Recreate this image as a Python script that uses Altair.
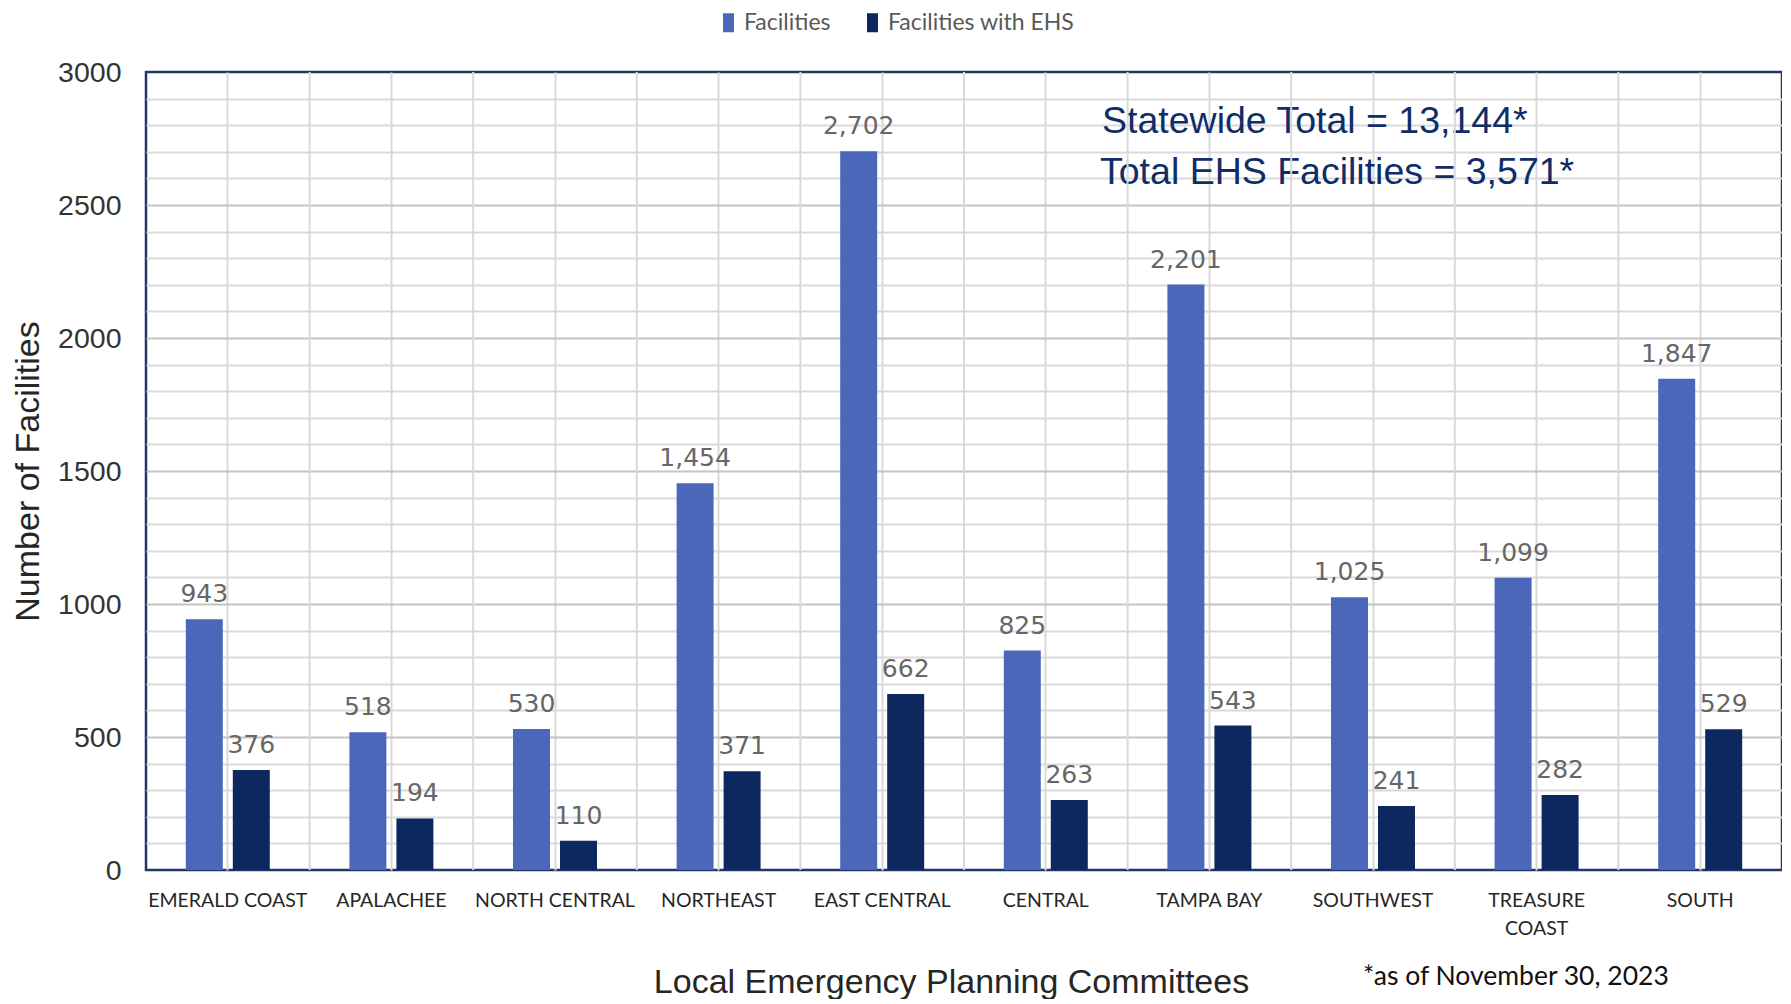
import altair as alt
import pandas as pd

categories = ["EMERALD COAST", "APALACHEE", "NORTH CENTRAL", "NORTHEAST", "EAST CENTRAL",
              "CENTRAL", "TAMPA BAY", "SOUTHWEST", "TREASURE COAST", "SOUTH"]
facilities = [943, 518, 530, 1454, 2702, 825, 2201, 1025, 1099, 1847]
facilities_ehs = [376, 194, 110, 371, 662, 263, 543, 241, 282, 529]
series = ["Facilities", "Facilities with EHS"]
colors = ["#4A67BA", "#0C285E"]
y_ticks = list(range(0, 3001, 100))
note_total = "Statewide Total = 13,144*"
note_ehs = "Total EHS Facilities = 3,571*"
footnote = "*as of November 30, 2023"

rows = []
for c, f, e in zip(categories, facilities, facilities_ehs):
    rows.append({"committee": c, "series": series[0], "value": f})
    rows.append({"committee": c, "series": series[1], "value": e})
df = pd.DataFrame(rows)
cat_df = pd.DataFrame({"committee": categories[1:]})

x_scale = alt.Scale(domain=categories, paddingInner=0, paddingOuter=0)
xo_scale = alt.Scale(domain=series, paddingInner=0.213, paddingOuter=0.847)
y_scale = alt.Scale(domain=[0, 3000], nice=False)

x_axis = alt.Axis(
    title="Local Emergency Planning Committees", grid=True, gridColor="#d9d9d9", gridWidth=2,
    ticks=False, domain=False, labelAngle=0, labelFont="Lato", labelFontSize=19.5,
    labelColor="#262626", labelPadding=21, labelLineHeight=28,
    labelExpr="datum.value == 'TREASURE COAST' ? ['TREASURE', 'COAST'] : datum.label",
    titleFont="Liberation Sans", titleFontSize=34, titleFontWeight="normal",
    titleColor="#262626", titleX=805, titleY=112, titleBaseline="middle",
)
y_axis = alt.Axis(
    title="Number of Facilities", values=y_ticks, format="d",
    labelExpr="datum.value % 500 == 0 ? datum.label : ''",
    grid=True,
    gridColor={"condition": {"test": "datum.value % 500 === 0", "value": "#c4c4c4"}, "value": "#dadada"},
    gridOpacity={"condition": {"test": "datum.value === 0 || datum.value === 3000", "value": 0}, "value": 1},
    gridWidth=2, ticks=False, domain=False, labelFont="Liberation Sans", labelFontSize=28.5,
    labelColor="#333333", labelPadding=25,
    titleFont="Liberation Sans", titleFontSize=34, titleFontWeight="normal", titleColor="#262626",
    titleX=-118, titleBaseline="middle",
)

X = alt.X("committee:N", scale=x_scale, axis=x_axis, sort=categories)
Y = alt.Y("value:Q", scale=y_scale, axis=y_axis)
XO = alt.XOffset("series:N", scale=xo_scale, sort=series)

note_style = dict(align="left", baseline="middle", font="Liberation Sans", fontSize=37.5, color="#0F2D66")
annot1 = alt.Chart(pd.DataFrame({"t": [note_total]})).mark_text(**note_style).encode(
    text="t:N", x=alt.value(956), y=alt.value(50))
annot2 = alt.Chart(pd.DataFrame({"t": [note_ehs]})).mark_text(**note_style).encode(
    text="t:N", x=alt.value(954), y=alt.value(101))

bounds = alt.Chart(cat_df).mark_rule(color="#d9d9d9", strokeWidth=2).encode(
    x=alt.X("committee:N", scale=x_scale, axis=x_axis, sort=categories, bandPosition=0)
)

bars = alt.Chart(df).mark_bar().encode(
    x=X, xOffset=XO, y=Y,
    color=alt.Color("series:N", scale=alt.Scale(domain=series, range=colors),
                    legend=alt.Legend(orient="none", legendX=571, legendY=-61, direction="horizontal",
                                      title=None, symbolType="M-0.58,-1H0.58V1H-0.58Z",
                                      symbolSize=361, symbolStrokeWidth=0, labelFont="Lato",
                                      labelFontSize=23, labelColor="#595959", columnPadding=30,
                                      labelOffset=4, labelLimit=400)),
)

labels = alt.Chart(df).mark_text(
    baseline="bottom", dy=-12, font="DejaVu Sans", fontSize=25, color="#666666"
).encode(x=X, xOffset=XO, y=Y, text=alt.Text("value:Q", format=","))

foot = alt.Chart(pd.DataFrame({"t": [footnote]})).mark_text(
    align="left", baseline="middle", font="Lato", fontSize=26.5, color="#111111"
).encode(text="t:N", x=alt.value(1217), y=alt.value(905))

chart = alt.layer(annot1, annot2, bounds, bars, labels, foot).properties(
    width=1636, height=798, padding={"left": 3, "top": 3, "right": 0, "bottom": 0}
).configure_view(stroke="#1F3864", strokeWidth=2.5)

chart.save("out.html", embed_options={"renderer": "svg", "actions": False})
